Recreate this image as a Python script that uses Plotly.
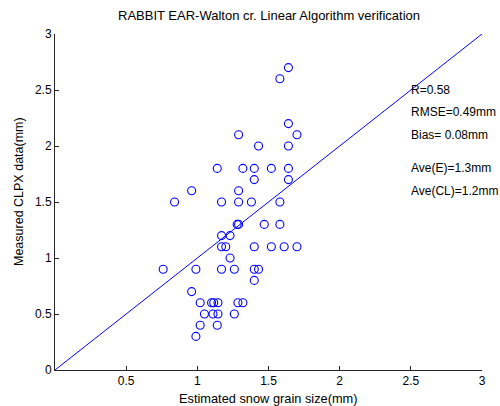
import plotly.graph_objects as go

est = [1.64, 1.58, 1.64, 1.70, 1.29, 1.43, 1.64,
       1.14, 1.32, 1.40, 1.52, 1.64,
       1.40, 1.64,
       0.96, 1.29,
       0.84, 1.17, 1.29, 1.38, 1.58,
       1.28, 1.29, 1.47, 1.58,
       1.17, 1.23,
       1.17, 1.20, 1.40, 1.52, 1.61, 1.70,
       1.23,
       0.76, 0.99, 1.17, 1.26, 1.40, 1.43,
       1.40, 0.96,
       1.02, 1.10, 1.115, 1.145, 1.285, 1.32,
       1.05, 1.11, 1.145, 1.26,
       1.02, 1.14,
       0.99]
meas = [2.7, 2.6, 2.2, 2.1, 2.1, 2.0, 2.0,
        1.8, 1.8, 1.8, 1.8, 1.8,
        1.7, 1.7,
        1.6, 1.6,
        1.5, 1.5, 1.5, 1.5, 1.5,
        1.3, 1.3, 1.3, 1.3,
        1.2, 1.2,
        1.1, 1.1, 1.1, 1.1, 1.1, 1.1,
        1.0,
        0.9, 0.9, 0.9, 0.9, 0.9, 0.9,
        0.8, 0.7,
        0.6, 0.6, 0.6, 0.6, 0.6, 0.6,
        0.5, 0.5, 0.5, 0.5,
        0.4, 0.4,
        0.3]

line_x = [0, 3]
line_y = [0, 3]

stats_text = ["R=0.58", "RMSE=0.49mm", "Bias= 0.08mm", "Ave(E)=1.3mm", "Ave(CL)=1.2mm"]
stats_y = [2.5, 2.3, 2.1, 1.8, 1.6]
stats_x = 2.5

ticks = [0, 0.5, 1, 1.5, 2, 2.5, 3]
xtick_labels = ["", "0.5", "1", "1.5", "2", "2.5", "3"]
ytick_labels = ["0", "0.5", "1", "1.5", "2", "2.5", "3"]

FONT = "Liberation Sans, Arial, sans-serif"
AX = "#262626"

fig = go.Figure()
fig.add_trace(go.Scatter(x=line_x, y=line_y, mode="lines",
                         line=dict(color="#0000ff", width=1), showlegend=False))
fig.add_trace(go.Scatter(x=est, y=meas, mode="markers",
                         marker=dict(symbol="circle-open", size=8, color="#0000ff",
                                     line=dict(width=1.1, color="#0000ff")),
                         showlegend=False))

for t, yv in zip(stats_text, stats_y):
    fig.add_annotation(x=stats_x, y=yv, text=t, showarrow=False, xanchor="left",
                       yanchor="middle", xshift=-2,
                       font=dict(family=FONT, size=12, color="black"))

fig.add_annotation(x=0.5, y=1, xref="paper", yref="paper", yshift=9,
                   text="RABBIT EAR-Walton cr. Linear Algorithm verification",
                   showarrow=False, xanchor="center", yanchor="bottom",
                   font=dict(family=FONT, size=13, color="black"))
fig.add_annotation(x=0.5, y=0, xref="paper", yref="paper", yshift=-19,
                   text="Estimated snow grain size(mm)",
                   showarrow=False, xanchor="center", yanchor="top",
                   font=dict(family=FONT, size=12.8, color="black"))
fig.add_annotation(x=0, y=0.5, xref="paper", yref="paper", xshift=-36, yshift=10,
                   text="Measured CLPX data(mm)", textangle=-90,
                   showarrow=False, xanchor="center", yanchor="middle",
                   font=dict(family=FONT, size=12.5, color="black"))

fig.update_layout(
    width=500, height=406,
    margin=dict(l=55, r=18, t=34, b=36),
    paper_bgcolor="white", plot_bgcolor="white",
    font=dict(family=FONT, size=12, color="black"),
    xaxis=dict(range=[0, 3], tickvals=ticks, ticktext=xtick_labels,
               ticks="inside", ticklen=4, tickcolor=AX, showline=True,
               linecolor=AX, linewidth=1, showgrid=False, zeroline=False,
               mirror=False, fixedrange=True),
    yaxis=dict(range=[0, 3], tickvals=ticks, ticktext=ytick_labels,
               ticks="inside", ticklen=4, tickcolor=AX, showline=True,
               linecolor=AX, linewidth=1, showgrid=False, zeroline=False,
               mirror=False, fixedrange=True),
)

fig.write_html("out.html", config={"displayModeBar": False},
               post_script="document.body.style.margin='0';")
